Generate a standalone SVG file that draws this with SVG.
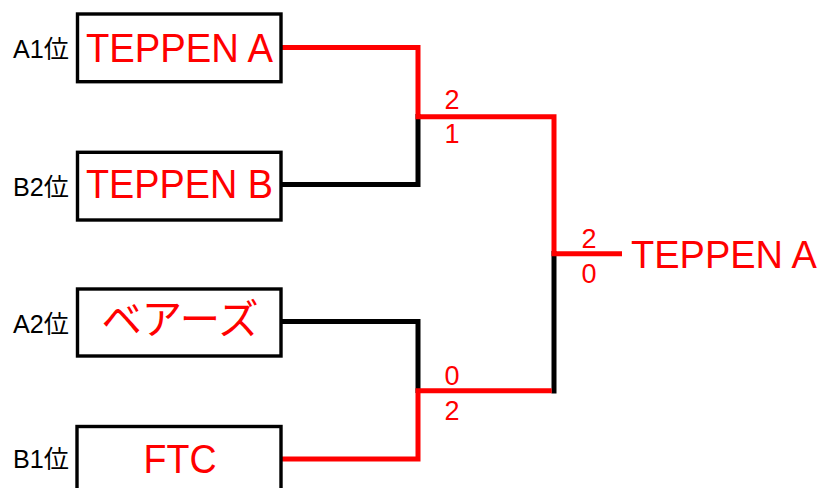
<svg xmlns="http://www.w3.org/2000/svg" width="824" height="488" viewBox="0 0 824 488">
<style>
.box{fill:#fff;stroke:#000;stroke-width:3.4}
.team{font-family:"Liberation Sans","Noto Sans CJK JP",sans-serif;font-size:41px;fill:#ff0000;text-anchor:middle}
.win{font-family:"Liberation Sans",sans-serif;font-size:38px;fill:#ff0000}
.rank{font-family:"Liberation Sans","Noto Sans CJK JP",sans-serif;font-size:25px;fill:#000}
.score{font-family:"Liberation Sans",sans-serif;font-size:27px;fill:#ff0000;text-anchor:middle}
.red{fill:none;stroke:#ff0000;stroke-width:5}
.blk{fill:none;stroke:#000;stroke-width:5}
</style>
<rect width="824" height="488" fill="#fff"/>
<g id="connectors">
<polyline class="blk" points="281,184.5 418,184.5 418,114"/>
<polyline class="blk" points="281,321.5 418,321.5 418,393"/>
<polyline class="blk" points="554,251 554,393.5"/>
<polyline class="red" points="281,47.5 418,47.5 418,116.8 554,116.8 554,253.8 622,253.8"/>
<polyline class="red" points="281,459 418,459 418,390.8 551.7,390.8"/>
</g>
<g id="node-a1">
<rect class="box" x="77.5" y="14" width="203.5" height="67.7"/>
<text class="rank" x="13" y="58" textLength="56" lengthAdjust="spacingAndGlyphs">A1位</text>
<text class="team" x="179.5" y="62" textLength="187" lengthAdjust="spacingAndGlyphs">TEPPEN A</text>
</g>
<g id="node-b2">
<rect class="box" x="77.5" y="152.3" width="203.5" height="67.7"/>
<text class="rank" x="13" y="196" textLength="56" lengthAdjust="spacingAndGlyphs">B2位</text>
<text class="team" x="179.5" y="198" textLength="187" lengthAdjust="spacingAndGlyphs">TEPPEN B</text>
</g>
<g id="node-a2">
<rect class="box" x="77.5" y="289" width="203.5" height="67"/>
<text class="rank" x="13" y="333" textLength="56" lengthAdjust="spacingAndGlyphs">A2位</text>
<text class="team" x="180" y="334" textLength="157" lengthAdjust="spacingAndGlyphs">ベアーズ</text>
</g>
<g id="node-b1">
<rect class="box" x="77" y="426.5" width="204" height="67.7"/>
<text class="rank" x="13" y="468" textLength="56" lengthAdjust="spacingAndGlyphs">B1位</text>
<text class="team" x="180" y="472.5" textLength="73" lengthAdjust="spacingAndGlyphs">FTC</text>
</g>
<g id="scores">
<text class="score" x="452" y="109">2</text>
<text class="score" x="452" y="143">1</text>
<text class="score" x="452" y="385">0</text>
<text class="score" x="452" y="420">2</text>
<text class="score" x="589" y="248">2</text>
<text class="score" x="589" y="282.5">0</text>
</g>
<g id="winner">
<text class="win" x="631" y="267.7">TEPPEN A</text>
</g>
</svg>
